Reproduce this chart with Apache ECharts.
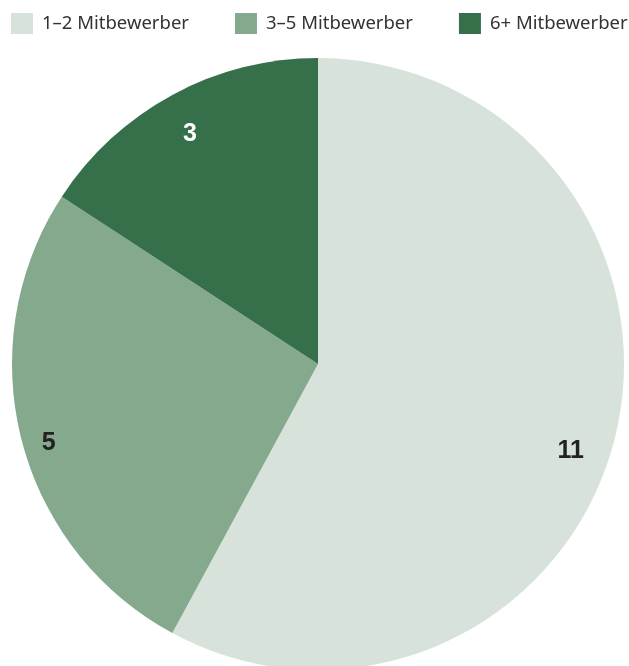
<!DOCTYPE html>
<html><head><meta charset="utf-8">
<script src="https://cdn.jsdelivr.net/npm/echarts@6/dist/echarts.min.js"></script>
<style>html,body{margin:0;padding:0;background:#fff}#c{width:629px;height:666px}</style>
</head><body><div id="c"></div>
<script>
const categories = ['1–2 Mitbewerber', '3–5 Mitbewerber', '6+ Mitbewerber'];
const values = [11, 5, 3];
const colors = ['#d7e3da', '#84a98c', '#35704b'];
const labelColors = ['#222222', '#222222', '#ffffff'];
const labelOffsets = [[-8, 21], [-8.5, 13], [0, 7]];

const chart = echarts.init(document.getElementById('c'), null, {renderer: 'canvas'});
const pieData = categories.map((n, i) => ({name: n, value: values[i], itemStyle: {color: colors[i]}}));
const labelData = categories.map((n, i) => ({
  name: n, value: values[i],
  label: {color: labelColors[i], offset: labelOffsets[i]}
}));
chart.setOption({
  animation: false,
  legend: {
    data: categories,
    left: 11, top: 13, padding: 0, width: 700,
    icon: 'rect', itemWidth: 22, itemHeight: 21, itemGap: 46,
    textStyle: {fontFamily: 'Noto Sans', fontSize: 18.5, color: '#333333', padding: [0, 0, 0, 4]}
  },
  series: [
    {
      type: 'pie', center: [318, 364], radius: 306,
      startAngle: 90, clockwise: true, silent: true,
      data: pieData, label: {show: false}, labelLine: {show: false},
      itemStyle: {borderWidth: 0}
    },
    {
      type: 'pie', center: [318, 364], radius: [226, 306],
      startAngle: 90, clockwise: true, silent: true, legendHoverLink: false,
      data: labelData,
      itemStyle: {color: 'rgba(0,0,0,0)'},
      label: {show: true, position: 'inside', formatter: '{c}', fontFamily: 'Liberation Sans', fontWeight: 'bold', fontSize: 25},
      labelLine: {show: false}
    }
  ]
});
</script></body></html>
